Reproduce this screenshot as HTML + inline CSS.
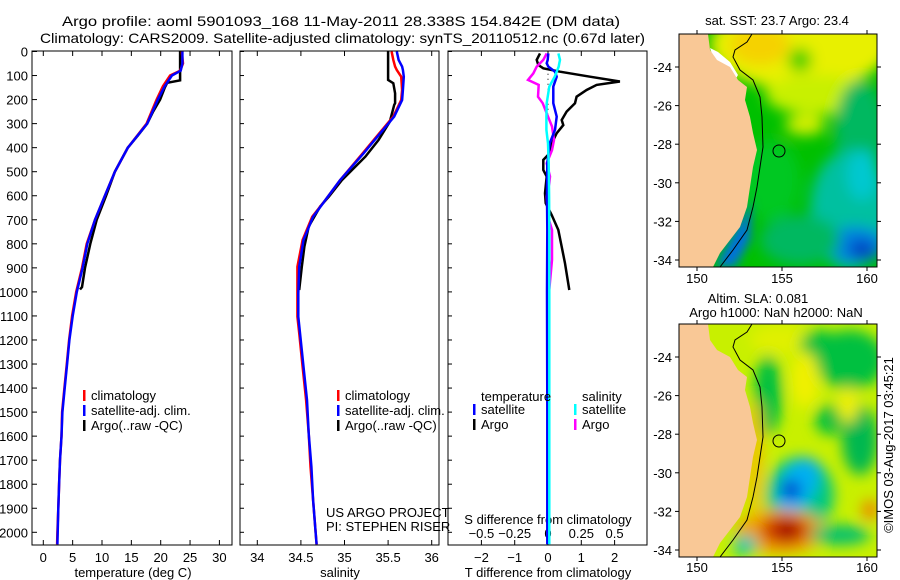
<!DOCTYPE html>
<html><head><meta charset="utf-8">
<style>
html,body{margin:0;padding:0;background:#fff;}
svg{display:block;font-family:"Liberation Sans",Arial,sans-serif;}
text{fill:#000;}
</style></head>
<body>
<svg id="fig" width="900" height="580" viewBox="0 0 900 580" xmlns="http://www.w3.org/2000/svg">
<defs>
<filter id="blur1" x="-50%" y="-50%" width="200%" height="200%"><feGaussianBlur stdDeviation="7"/></filter>
<filter id="blur2" x="-50%" y="-50%" width="200%" height="200%"><feGaussianBlur stdDeviation="5"/></filter>
<clipPath id="clipMap1"><rect x="679" y="34" width="198" height="233"/></clipPath>
<clipPath id="clipMap2"><rect x="679" y="324" width="198" height="233"/></clipPath>
<clipPath id="clipP1"><rect x="32" y="51" width="200" height="494"/></clipPath>
<clipPath id="clipP2"><rect x="240" y="51" width="199" height="494"/></clipPath>
<clipPath id="clipP3"><rect x="448" y="51" width="199" height="494"/></clipPath>
</defs>

<text x="62" y="26" font-size="14" textLength="558" lengthAdjust="spacingAndGlyphs">Argo profile: aoml 5901093_168 11-May-2011 28.338S 154.842E (DM data)</text>
<text x="40" y="43" font-size="14" textLength="605" lengthAdjust="spacingAndGlyphs">Climatology: CARS2009. Satellite-adjusted climatology: synTS_20110512.nc (0.67d later)</text>

<g id="p1"></g>
<g id="p2"></g>
<g id="p3"></g>

<!-- Map 1: SST -->
<g>
<text x="777" y="25" font-size="13" text-anchor="middle">sat. SST: 23.7 Argo: 23.4</text>
<g clip-path="url(#clipMap1)">
<rect x="679" y="34" width="198" height="233" fill="#00c000"/>
<g filter="url(#blur1)">
<ellipse cx="800" cy="45" rx="90" ry="45" fill="#e8f000"/>
<ellipse cx="760" cy="45" rx="30" ry="20" fill="#f5d200"/>
<ellipse cx="820" cy="95" rx="55" ry="20" fill="#c8f000"/>
<ellipse cx="805" cy="125" rx="20" ry="10" fill="#d8f000"/>
<ellipse cx="800" cy="60" rx="12" ry="12" fill="#40d000"/>
<ellipse cx="860" cy="130" rx="25" ry="50" fill="#00b860"/>
<ellipse cx="850" cy="210" rx="40" ry="60" fill="#00c0a0"/>
<ellipse cx="862" cy="175" rx="15" ry="25" fill="#00c8d0"/>
<ellipse cx="855" cy="245" rx="30" ry="18" fill="#0080e0"/>
<ellipse cx="862" cy="250" rx="12" ry="10" fill="#0040c0"/>
<ellipse cx="800" cy="240" rx="40" ry="25" fill="#00b860"/>
<ellipse cx="770" cy="180" rx="30" ry="40" fill="#00c820"/>
</g>
<path d="M738,225 L752,200 L750,240 L735,267 L715,267 Z" fill="#0070e0" filter="url(#blur2)"/>
<polygon points="710,48 718,52 730,62 738,75 735,80 725,70 714,60" fill="#fff"/>
<polygon points="679,34 708,34 710,50 717,60 730,67 738,80 747,87 745,100 750,117 753,133 757,150 753,167 750,187 747,207 740,227 730,240 720,253 713,267 679,267" fill="#f9c896"/>
<polyline points="752,34 747,42 735,50 733,57 740,70 753,80 760,97 762,117 763,147 760,167 757,187 753,207 747,230 733,250 720,267" fill="none" stroke="#000" stroke-width="1"/>
<circle cx="779" cy="151" r="6" fill="none" stroke="#000" stroke-width="1"/>
</g>
<rect x="679" y="34" width="198" height="233" fill="none" stroke="#000" stroke-width="1"/>
</g>

<!-- Map 2: SLA -->
<g>
<text x="758" y="303" font-size="13" text-anchor="middle">Altim. SLA: 0.081</text>
<text x="776" y="317" font-size="13" text-anchor="middle">Argo h1000: NaN h2000: NaN</text>
<g clip-path="url(#clipMap2)">
<rect x="679" y="324" width="198" height="233" fill="#c8f000"/>
<g filter="url(#blur1)">
<ellipse cx="780" cy="340" rx="30" ry="15" fill="#e0f000"/>
<ellipse cx="850" cy="360" rx="35" ry="30" fill="#00c040"/>
<ellipse cx="820" cy="345" rx="20" ry="15" fill="#00c040"/>
<ellipse cx="768" cy="395" rx="14" ry="40" fill="#00c040"/>
<ellipse cx="830" cy="420" rx="15" ry="15" fill="#00c040"/>
<ellipse cx="860" cy="440" rx="18" ry="35" fill="#00b850"/>
<ellipse cx="805" cy="380" rx="14" ry="28" fill="#f0f000"/>
<ellipse cx="848" cy="405" rx="10" ry="18" fill="#f0f000"/>
<ellipse cx="800" cy="495" rx="34" ry="38" fill="#00c880"/>
<ellipse cx="798" cy="485" rx="18" ry="30" fill="#00b0f0" transform="rotate(30 798 485)"/>
<ellipse cx="791" cy="490" rx="10" ry="10" fill="#0040d0"/>
<ellipse cx="780" cy="532" rx="45" ry="22" fill="#f0a000"/>
<ellipse cx="785" cy="530" rx="25" ry="15" fill="#d04000"/>
<ellipse cx="787" cy="530" rx="10" ry="10" fill="#a00000"/>
<ellipse cx="745" cy="545" rx="12" ry="10" fill="#00c8b0"/>
<ellipse cx="840" cy="535" rx="30" ry="10" fill="#00c070"/>
<ellipse cx="870" cy="510" rx="8" ry="10" fill="#f08000"/>
<ellipse cx="755" cy="460" rx="8" ry="60" fill="#f0c000"/>
</g>
<polygon points="679,324 708,324 710,340 717,350 730,357 738,370 747,377 745,390 750,407 753,423 757,440 753,457 750,477 747,497 740,517 730,530 720,543 713,557 679,557" fill="#f9c896"/>
<polyline points="752,324 747,332 735,340 733,347 740,360 753,370 760,387 762,407 763,437 760,457 757,477 753,497 747,520 733,540 720,557" fill="none" stroke="#000" stroke-width="1"/>
<circle cx="779" cy="441" r="6" fill="none" stroke="#000" stroke-width="1"/>
</g>
<rect x="679" y="324" width="198" height="233" fill="none" stroke="#000" stroke-width="1"/>
</g>

<g id="maxes"></g>

<text transform="translate(893,445) rotate(-90)" font-size="13" text-anchor="middle">©IMOS 03-Aug-2017 03:45:21</text>

<script>
// ---------------- data ----------------
const depthTicks = [0,100,200,300,400,500,600,700,800,900,1000,1100,1200,1300,1400,1500,1600,1700,1800,1900,2000];
const tempTicks = [0,5,10,15,20,25,30];
const salTicks = [34,34.5,35,35.5,36];
const tdiffTicks = [-2,-1,0,1,2];
const sdiffTicks = [-0.5,-0.25,0,0.25,0.5];

const climDepth = [0,50,80,100,144,200,300,400,500,600,700,800,900,1000,1100,1200,1300,1400,1500,1600,1700,1800,1900,2000,2050];
const climTemp  = [23.6,23.8,23.3,21.6,20.4,19.3,17.6,14.4,12.2,10.5,8.8,7.4,6.6,5.6,4.9,4.4,4.0,3.6,3.2,3.1,2.85,2.7,2.55,2.4,2.35];
const satTemp   = [23.7,23.7,23.4,21.9,20.7,19.5,17.7,14.4,12.2,10.5,8.8,7.5,6.7,5.7,5.0,4.45,4.05,3.65,3.25,3.1,2.85,2.7,2.55,2.45,2.4];
const argoDepth = [0,120,130,150,200,250,300,350,400,500,600,700,800,900,980,990];
const argoTemp  = [23.3,23.3,21.1,20.7,19.9,18.7,17.7,16.1,14.4,12.2,10.7,9.1,8.0,7.1,6.6,6.25];

const salDepth = [0,35,63,77,105,160,202,271,340,423,535,618,687,784,895,1006,1103,1171,1311,1450,1588,1727,1866,2004,2050];
const climSal  = [35.54,35.56,35.58,35.60,35.65,35.66,35.65,35.56,35.40,35.21,34.95,34.78,34.63,34.52,34.46,34.46,34.46,34.48,34.52,34.56,34.59,34.61,34.64,34.67,34.68];
const satSal   = [35.60,35.62,35.66,35.67,35.68,35.67,35.66,35.57,35.41,35.22,34.95,34.78,34.64,34.53,34.48,34.47,34.47,34.49,34.53,34.57,34.59,34.62,34.64,34.67,34.68];
const argoSDepth = [0,118,132,174,215,222,292,368,437,535,604,645,728,811,895,992];
const argoSal  = [35.50,35.50,35.56,35.58,35.58,35.57,35.52,35.39,35.24,34.97,34.82,34.72,34.59,34.54,34.51,34.48];

const dTDepth = [8,35,56,70,84,105,125,139,160,188,215,250,285,306,340,382,423,451,493,520,590,631,680,742,812,881,992];
const argoTdiff = [-0.24,-0.34,-0.29,-0.14,0.36,1.26,2.16,1.46,1.16,0.86,0.81,0.56,0.41,0.46,0.26,0.11,0.05,-0.14,-0.14,-0.04,-0.09,-0.07,0.11,0.31,0.41,0.51,0.64];
const dSDepth = [8,35,63,91,118,139,188,215,257,312,368,410,465,520,548,604,687,742,867,990];
const argoSdiff = [-0.01,-0.035,-0.085,-0.11,-0.15,-0.07,-0.075,-0.04,-0.01,0.03,0.045,0.03,-0.01,0.015,0.01,-0.01,0.0,0.03,0.03,0.01];
const satDDepth = [8,35,49,63,84,105,146,215,271,326,382,465,604,742,1000,1500,2050];
const satTdiff = [0.01,-0.01,-0.04,0.01,0.21,0.26,0.16,0.16,0.26,0.21,0.05,-0.02,-0.03,-0.02,-0.03,-0.02,-0.02];
const satSdiff = [0.078,0.09,0.085,0.08,0.065,0.05,0.01,-0.01,-0.012,-0.012,0.0,0.005,0.008,0.01,0.01,0.01,0.01];

const latTicks = [-24,-26,-28,-30,-32,-34];
const lonTicks = [150,155,160];

// ---------------- scales ----------------
const NS='http://www.w3.org/2000/svg';
const yD = d => 51.5 + d*0.2404;
const xT = t => 43.3 + t*5.87;
const xS = s => 257.3 + (s-34)*87.2;
const xTd = v => 548 + v*33.3;
const xSd = v => 548 + v*133.2;
const yLat1 = l => 67 + (-24 - l)*19.3;
const yLat2 = l => 357 + (-24 - l)*19.3;
const xLon = l => 697 + (l-150)*17;

function mk(tag, attrs, parent){const e=document.createElementNS(NS,tag);for(const k in attrs)e.setAttribute(k,attrs[k]);parent.appendChild(e);return e;}
function txt(parent,x,y,s,anchor,size){const e=mk('text',{x:x,y:y,'font-size':size||13,'text-anchor':anchor||'middle'},parent);e.textContent=s;return e;}
function line(parent,xs,ds,xf,color,clip,w){
  const pts=xs.map((v,i)=>xf(v).toFixed(1)+','+yD(ds[i]).toFixed(1)).join(' ');
  return mk('polyline',{points:pts,fill:'none',stroke:color,'stroke-width':w||2,'clip-path':'url(#'+clip+')'},parent);
}
function frame(parent,x0,x1){mk('rect',{x:x0,y:51,width:x1-x0,height:494,fill:'none',stroke:'#000','stroke-width':1},parent);}

// ---------------- panel 1 ----------------
const p1=document.getElementById('p1');
frame(p1,32,232);
depthTicks.forEach(d=>{
  const t=mk('line',{x1:32,x2:37,y1:yD(d),y2:yD(d),stroke:'#000'},p1);
  
  
  const lb=txt(p1,28,yD(d)+5,String(d),'end');
  
  
});
tempTicks.forEach(v=>{
  mk('line',{x1:xT(v),x2:xT(v),y1:51,y2:56,stroke:'#000'},p1);
  mk('line',{x1:xT(v),x2:xT(v),y1:545,y2:540,stroke:'#000'},p1);
  const lb=txt(p1,xT(v),562,String(v));
  
  
});
let e;
e=txt(p1,133,577,'temperature (deg C)');


e=line(p1,argoTemp,argoDepth,xT,'#000','clipP1',2.5);


e=line(p1,climTemp,climDepth,xT,'#ff0000','clipP1',2.5);


e=line(p1,satTemp,climDepth,xT,'#0000ff','clipP1',2.5);


function legend(parent,x,y,items){
  items.forEach((it,i)=>{
    mk('rect',{x:x,y:y+i*15-11,width:2.5,height:11,fill:it[1]},parent);
    const t=txt(parent,x+8,y+i*15-1,it[0],'start');
    
    
  });
}
legend(p1,83,401,[['climatology','#ff0000'],['satellite-adj. clim.','#0000ff'],['Argo(..raw -QC)','#000']]);

// ---------------- panel 2 ----------------
const p2=document.getElementById('p2');
frame(p2,240,439);
depthTicks.forEach(d=>{mk('line',{x1:240,x2:244,y1:yD(d),y2:yD(d),stroke:'#000'},p2);});
salTicks.forEach(v=>{
  mk('line',{x1:xS(v),x2:xS(v),y1:51,y2:56,stroke:'#000'},p2);
  mk('line',{x1:xS(v),x2:xS(v),y1:545,y2:540,stroke:'#000'},p2);
  const lb=txt(p2,xS(v),562,String(v));
  
  
});
e=txt(p2,340,577,'salinity');


e=line(p2,argoSal,argoSDepth,xS,'#000','clipP2',2.5);


e=line(p2,climSal,salDepth,xS,'#ff0000','clipP2',2.5);


e=line(p2,satSal,salDepth,xS,'#0000ff','clipP2',2.5);


legend(p2,337,401,[['climatology','#ff0000'],['satellite-adj. clim.','#0000ff'],['Argo(..raw -QC)','#000']]);
e=txt(p2,326,517,'US ARGO PROJECT','start');


e=txt(p2,326,531,'PI: STEPHEN RISER','start');



// ---------------- panel 3 ----------------
const p3=document.getElementById('p3');
frame(p3,448,647);
depthTicks.forEach(d=>{mk('line',{x1:448,x2:452,y1:yD(d),y2:yD(d),stroke:'#000'},p3);});
tdiffTicks.forEach(v=>{
  mk('line',{x1:xTd(v),x2:xTd(v),y1:51,y2:56,stroke:'#000'},p3);
  mk('line',{x1:xTd(v),x2:xTd(v),y1:545,y2:540,stroke:'#000'},p3);
  const lb=txt(p3,xTd(v),562,String(v).replace('-','\u2212'));
  
  
});
sdiffTicks.forEach(v=>{
  const lb=txt(p3,xSd(v),538,String(v).replace('-','\u2212'));
  
  
});
e=txt(p3,548,524,'S difference from climatology');


e=txt(p3,548,577,'T difference from climatology');


mk('line',{x1:548,x2:548,y1:yD(30),y2:yD(260),stroke:'#000','stroke-dasharray':'1,4'},p3);
e=line(p3,argoTdiff,dTDepth,xTd,'#000','clipP3',2.5);


e=line(p3,argoSdiff,dSDepth,xSd,'#ff00ff','clipP3',2.5);


e=line(p3,satTdiff,satDDepth,xTd,'#0000ff','clipP3',2.5);


e=line(p3,satSdiff,satDDepth,xSd,'#00ffff','clipP3',2.5);


e=txt(p3,481,401,'temperature','start');


e=txt(p3,582,401,'salinity','start');


legend(p3,473,415,[['satellite','#0000ff'],['Argo','#000']]);
legend(p3,574,415,[['satellite','#00ffff'],['Argo','#ff00ff']]);

// ---------------- map axes ----------------
const ma=document.getElementById('maxes');
[[yLat1,34,267,283],[yLat2,324,557,572]].forEach(cfg=>{
  const yl=cfg[0];
  latTicks.forEach(l=>{
    mk('line',{x1:679,x2:675,y1:yl(l),y2:yl(l),stroke:'#000'},ma);
    mk('line',{x1:877,x2:881,y1:yl(l),y2:yl(l),stroke:'#000'},ma);
    const lb=txt(ma,672,yl(l)+5,String(l),'end');
    
    
  });
  lonTicks.forEach(l=>{
    mk('line',{x1:xLon(l),x2:xLon(l),y1:cfg[1],y2:cfg[1]-4,stroke:'#000'},ma);
    mk('line',{x1:xLon(l),x2:xLon(l),y1:cfg[2],y2:cfg[2]+4,stroke:'#000'},ma);
    const lb=txt(ma,xLon(l),cfg[3],String(l));
    
    
  });
});
</script>
</svg>
</body></html>
